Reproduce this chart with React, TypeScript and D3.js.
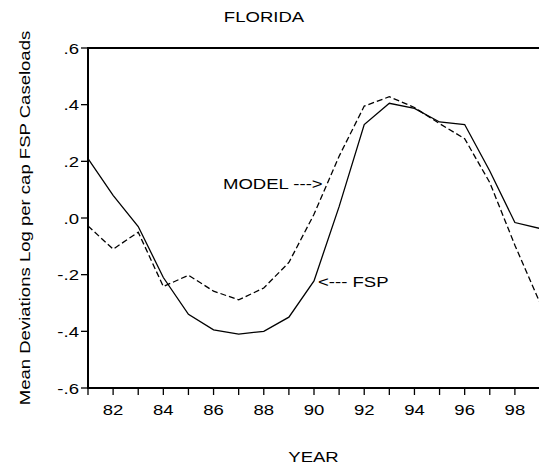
import React from "react";
import * as d3 from "d3";

const years = [81, 82, 83, 84, 85, 86, 87, 88, 89, 90, 91, 92, 93, 94, 95, 96, 97, 98, 99];
const fsp = [0.21, 0.08, -0.03, -0.21, -0.34, -0.395, -0.41, -0.4, -0.35, -0.222, 0.04, 0.33, 0.405, 0.387, 0.339, 0.33, 0.166, -0.016, -0.037];
const model = [-0.028, -0.11, -0.05, -0.242, -0.202, -0.258, -0.289, -0.247, -0.157, 0.013, 0.218, 0.395, 0.428, 0.39, 0.333, 0.28, 0.125, -0.096, -0.3];
const yTicks = [0.6, 0.4, 0.2, 0.0, -0.2, -0.4, -0.6];
const yTickLabels = [".6", ".4", ".2", ".0", "-.2", "-.4", "-.6"];
const xTickYears = [81, 82, 83, 84, 85, 86, 87, 88, 89, 90, 91, 92, 93, 94, 95, 96, 97, 98, 99];
const xLabelYears = [82, 84, 86, 88, 90, 92, 94, 96, 98];

const W = 539;
const H = 472;
const L = 88, R = 540, T = 48, B = 388;
const FS = 15.2;
const SX = 1.22;
const FONT = "Arial, 'Liberation Sans', Helvetica, sans-serif";

function T_({ x, y, anchor = "start", children, rotate = 0 }: any) {
  return (
    <g transform={`translate(${x},${y}) rotate(${rotate}) scale(${SX},1)`}>
      <text x={0} y={0} textAnchor={anchor} fontSize={FS} fontFamily={FONT} fill="#000">
        {children}
      </text>
    </g>
  );
}

export default function App() {
  const x = d3.scaleLinear().domain([81, 99]).range([L, R]);
  const y = d3.scaleLinear().domain([-0.6, 0.6]).range([B, T]);
  const line = d3
    .line<number>()
    .x((_, i) => x(years[i]))
    .y((d) => y(d));

  return (
    <svg
      width={W}
      height={H}
      style={{ position: "absolute", left: 0, top: 0, background: "#fff" }}
    >
      <rect x={0} y={0} width={W} height={H} fill="#fff" />
      <defs>
        <clipPath id="plot">
          <rect x={L} y={T - 5} width={R - L} height={B - T + 10} />
        </clipPath>
      </defs>
      <g clipPath="url(#plot)">
        <path d={line(fsp) || ""} fill="none" stroke="#000" strokeWidth={1.3} />
        <path d={line(model) || ""} fill="none" stroke="#000" strokeWidth={1.3} strokeDasharray="6,3" />
      </g>
      <rect x={L} y={T} width={R - L} height={B - T} fill="none" stroke="#000" strokeWidth={2} />
      {yTicks.map((t, i) => (
        <g key={"y" + i}>
          <line x1={L - 7} x2={L} y1={y(t)} y2={y(t)} stroke="#000" strokeWidth={1.3} />
          <T_ x={L - 9} y={y(t) + 5.5} anchor="end">
            {yTickLabels[i]}
          </T_>
        </g>
      ))}
      {xTickYears.map((t) => (
        <line key={"xt" + t} x1={x(t)} x2={x(t)} y1={B} y2={B + 7} stroke="#000" strokeWidth={1.3} />
      ))}
      {xLabelYears.map((t) => (
        <T_ key={"xl" + t} x={x(t)} y={415} anchor="middle">
          {String(t)}
        </T_>
      ))}
      <T_ x={264} y={22} anchor="middle">FLORIDA</T_>
      <T_ x={313.5} y={461.5} anchor="middle">YEAR</T_>
      <T_ x={29.5} y={218} anchor="middle" rotate={-90}>
        Mean Deviations Log per cap FSP Caseloads
      </T_>
      <T_ x={223} y={189}>MODEL ---&gt;</T_>
      <T_ x={318} y={287}>&lt;--- FSP</T_>
    </svg>
  );
}
